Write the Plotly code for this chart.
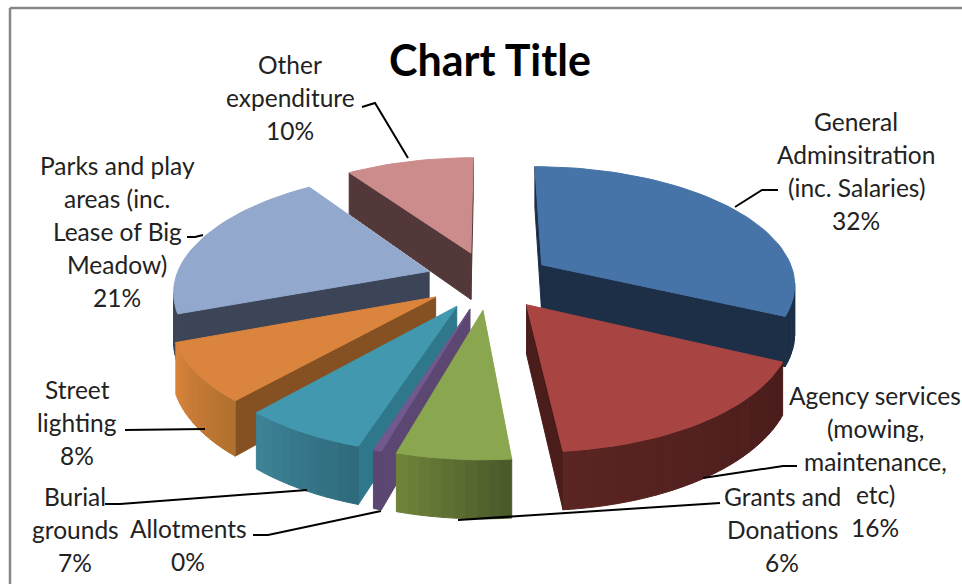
import math
import plotly.graph_objects as go

# ---- data ----
categories = ["General Adminsitration (inc. Salaries)", "Agency services (mowing, maintenance, etc)",
              "Grants and Donations", "Allotments", "Burial grounds", "Street lighting",
              "Parks and play areas (inc. Lease of Big Meadow)", "Other expenditure"]
values = [32.1, 16.4, 5.97, 0.43, 6.6, 7.8, 21.2, 9.55]
label_lines = [["General", "Adminsitration", "(inc. Salaries)"],
               ["Agency services", "(mowing,", "maintenance,", "etc)"],
               ["Grants and", "Donations"],
               ["Allotments"],
               ["Burial", "grounds"],
               ["Street", "lighting"],
               ["Parks and play", "areas (inc.", "Lease of Big", "Meadow)"],
               ["Other", "expenditure"]]

# ---- style / layout ----
top_colors = ["#4673a8", "#a84442", "#8aa64e", "#71588f", "#4198af", "#db843d", "#92a8cd", "#cd8c8c"]
wall_colors = ["#1c2f47", "#4a1c1a", "#4a5a2a", "#5c4672", "#2f788b", "#855122", "#3c4558", "#523838"]
arc_start = ["#1c2f47", "#4a1c1a", "#4b5a2b", "#5c4672", "#2f6b7d", "#b0702f", "#3c4558", "#523838"]
arc_end = ["#1c2f47", "#5a2523", "#6f8239", "#5c4672", "#3d8296", "#d9843c", "#3c4558", "#523838"]
label_pos = [(856, 121), (875, 395), (782, 496), (188, 528), (75, 496), (77, 389), (117, 165), (290, 64)]
leaders = [[(735, 207), (762, 190), (778, 190)],
           [(703, 478), (783, 466), (797, 466)],
           [(458, 520), (705, 504), (720, 503)],
           [(381, 511), (268, 535), (253, 535)],
           [(307, 490), (120, 504), (105, 504)],
           [(205, 429), (140, 430), (125, 430)],
           [(203, 235), (195, 237), (187, 237)],
           [(408, 158), (375, 103), (362, 107)]]
LINE_H = 33
FONT = "Lato, Carlito, Calibri, sans-serif"
CX, CY, RX, RY, HGT, PERSP, EXPL = 489, 280, 254, 117, 48, 0.15, 0.25


def project(x, y, z=0.0):
    s = 1 / (1 - PERSP * y)
    return CX + RX * x * s, CY + RY * y * s + HGT * z * s


def mix(c0, c1, t):
    a = [int(c0[i:i + 2], 16) for i in (1, 3, 5)]
    b = [int(c1[i:i + 2], 16) for i in (1, 3, 5)]
    return "#" + "".join(f"{round(p + (q - p) * t):02x}" for p, q in zip(a, b))


def area(pts):
    return sum(pts[i][0] * pts[(i + 1) % len(pts)][1] - pts[(i + 1) % len(pts)][0] * pts[i][1]
               for i in range(len(pts)))


def poly(fig, pts, color):
    xs = [p[0] for p in pts] + [pts[0][0]]
    ys = [p[1] for p in pts] + [pts[0][1]]
    fig.add_trace(go.Scatter(x=xs, y=ys, mode="lines", fill="toself", fillcolor=color,
                             line=dict(color=color, width=1), hoverinfo="skip", showlegend=False))


total = sum(values)
slices = []
acc = 0.0
for i, v in enumerate(values):
    a0 = acc / total * 2 * math.pi
    a1 = (acc + v) / total * 2 * math.pi
    acc += v
    mid = (a0 + a1) / 2
    ax, ay = EXPL * math.sin(mid), -EXPL * math.cos(mid)
    slices.append((ay, i, a0, a1, ax, ay))

fig = go.Figure()
for _, i, a0, a1, ax, ay in sorted(slices):
    n = max(2, int(math.degrees(a1 - a0) / 2))
    rim = [(ax + math.sin(a0 + (a1 - a0) * k / n), ay - math.cos(a0 + (a1 - a0) * k / n)) for k in range(n + 1)]
    outline = [(ax, ay)] + rim
    for p, q in ((outline[0], outline[1]), (outline[-1], outline[0])):
        wall = [project(*p), project(*q), project(*q, 1), project(*p, 1)]
        if area(wall) < 0:
            poly(fig, wall, wall_colors[i])
    for k in range(n):
        wall = [project(*rim[k]), project(*rim[k + 1]), project(*rim[k + 1], 1), project(*rim[k], 1)]
        if area(wall) < 0:
            poly(fig, wall, mix(arc_start[i], arc_end[i], k / max(1, n - 1)))
    poly(fig, [project(*p) for p in outline], top_colors[i])

annotations = []
for i, lines in enumerate(label_lines):
    x, y = label_pos[i]
    pct = f"{round(values[i] / total * 100)}%"
    for j, line in enumerate(lines + [pct]):
        annotations.append(dict(x=x, y=y + j * LINE_H, text=line, showarrow=False, xanchor="center",
                                yanchor="middle", font=dict(family=FONT, size=24.5, color="#222222")))
annotations.append(dict(x=490, y=59, text="<b>Chart Title</b>", showarrow=False, xanchor="center",
                        yanchor="middle", font=dict(family=FONT, size=43, color="#000000")))

for pts in leaders:
    fig.add_trace(go.Scatter(x=[p[0] for p in pts], y=[p[1] for p in pts], mode="lines",
                             line=dict(color="#000000", width=2), hoverinfo="skip", showlegend=False))

shapes = [dict(type="line", x0=10, y0=8, x1=962, y1=8, line=dict(color="#868686", width=2.5)),
          dict(type="line", x0=10, y0=8, x1=10, y1=584, line=dict(color="#868686", width=2.5))]

fig.update_layout(width=962, height=584, margin=dict(l=0, r=0, t=0, b=0), autosize=False,
                  paper_bgcolor="white", plot_bgcolor="white", showlegend=False,
                  xaxis=dict(range=[0, 962], visible=False, fixedrange=True),
                  yaxis=dict(range=[584, 0], visible=False, fixedrange=True),
                  annotations=annotations, shapes=shapes)
fig.write_html("out.html", config={"displayModeBar": False},
               post_script="document.body.style.margin='0';document.documentElement.style.overflow='hidden';")
